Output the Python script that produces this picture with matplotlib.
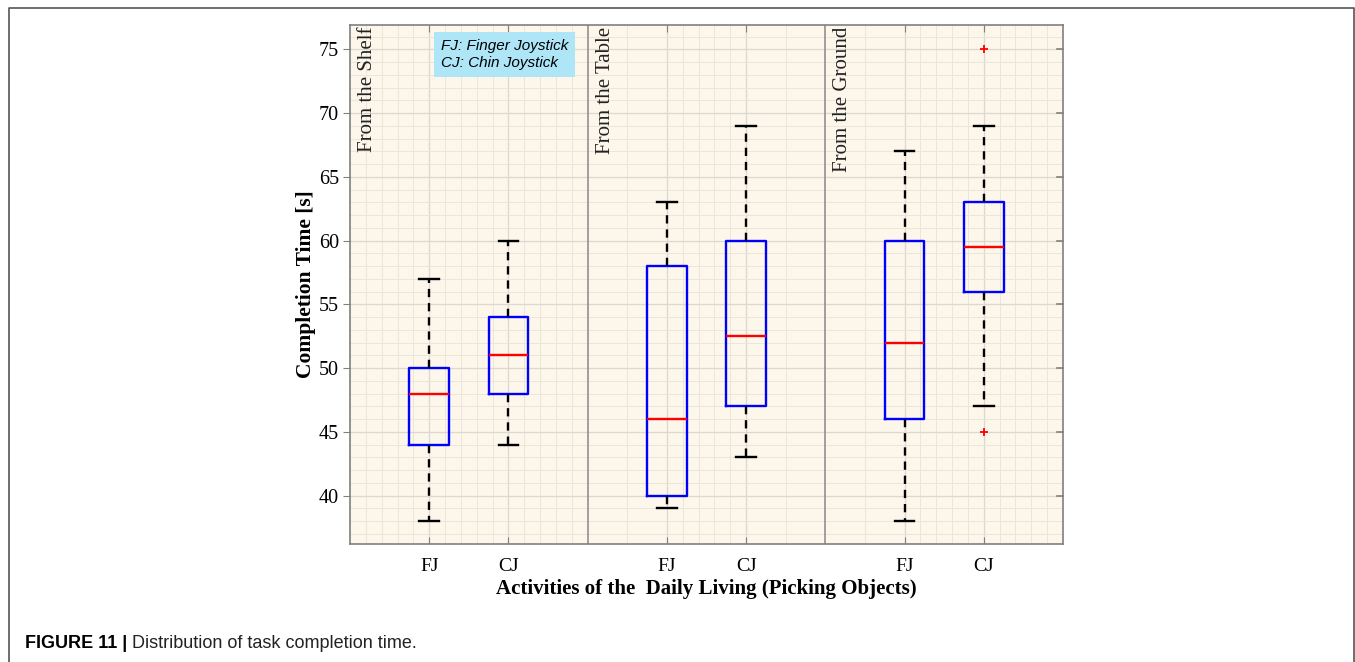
import matplotlib.pyplot as plt
from matplotlib.lines import Line2D
from matplotlib.ticker import MultipleLocator, FixedLocator

# box statistics
groups = ['From the Shelf', 'From the Table', 'From the Ground']
devices = ['FJ', 'CJ']
positions = [1, 2, 4, 5, 7, 8]
whislo = [38, 44, 39, 43, 38, 47]
q1 = [44, 48, 40, 47, 46, 56]
med = [48, 51, 46, 52.5, 52, 59.5]
q3 = [50, 54, 58, 60, 60, 63]
whishi = [57, 60, 63, 69, 67, 69]
fliers = [[], [], [], [], [], [75, 45]]

# minor vertical grid as it appears in the original
xminor = [0.2, 0.4, 0.6, 0.8, 1.2, 1.4, 1.6, 1.8, 2.2, 2.4, 2.6, 2.8,
          3.5, 4.2, 4.4, 4.6, 4.8, 5.5,
          6.5, 7.2, 7.4, 7.6, 7.8, 8.2, 8.4, 8.6, 8.8]

stats = []
for i in range(len(positions)):
    stats.append(dict(whislo=whislo[i], q1=q1[i], med=med[i], q3=q3[i],
                      whishi=whishi[i], fliers=fliers[i]))

fig = plt.figure(figsize=(13.55, 6.62), dpi=100)
ax = fig.add_axes([0.2583, 0.1782, 0.5262, 0.784])
ax.set_facecolor('#fcf6eb')

ax.bxp(stats, positions=positions, widths=0.5, showfliers=True,
       boxprops=dict(color='#0000ff', linewidth=1.7),
       medianprops=dict(color='#ff0000', linewidth=1.7),
       whiskerprops=dict(color='black', linewidth=1.7, linestyle=(0, (3.5, 2.5))),
       capprops=dict(color='black', linewidth=1.7),
       flierprops=dict(marker='+', markeredgecolor='#ff0000', markersize=6,
                       markeredgewidth=1.3, linestyle='none'),
       capwidths=0.25)

ax.set_xlim(0, 9)
ax.set_ylim(36.2, 76.9)
ax.set_xticks(positions)
ax.set_xticklabels(devices * 3)
ax.yaxis.set_major_locator(MultipleLocator(5))
ax.yaxis.set_minor_locator(MultipleLocator(1))
ax.xaxis.set_minor_locator(FixedLocator(xminor))

ax.grid(True, which='major', color='#dcd8ce', linewidth=0.9)
ax.grid(True, which='minor', color='#ebe6da', linewidth=0.7)
ax.set_axisbelow(True)

for s in ax.spines.values():
    s.set_color('#808080')
    s.set_linewidth(1.2)

ax.tick_params(axis='x', which='major', direction='in', top=True, length=5,
               color='#808080', labelsize=14, pad=10)
ax.tick_params(axis='y', which='major', direction='out', right=False, length=5,
               color='#808080', labelsize=14.5, pad=3)
ax.tick_params(which='minor', length=0)
for t in ax.get_xticklabels() + ax.get_yticklabels():
    t.set_family('Liberation Serif')
for yv in range(40, 80, 5):
    ax.plot([9 - 0.08, 9], [yv, yv], color='#808080', linewidth=1.2,
            clip_on=False, zorder=5)

# group separators and titles
for k, name in enumerate(groups):
    if k > 0:
        ax.axvline(3 * k, color='#909090', linewidth=1.2)
    ax.text(3 * k + 0.1, 76.75, name, rotation=90, ha='left', va='top',
            fontsize=15, family='Liberation Serif', color='#222222')

ax.text(1.15, 75.8, 'FJ: Finger Joystick\nCJ: Chin Joystick', ha='left', va='top',
        fontsize=11, style='italic', family='Liberation Sans', linespacing=1.3,
        bbox=dict(facecolor='#aee6f7', edgecolor='none', pad=5))

ax.set_ylabel('Completion Time [s]', fontsize=15.5, fontweight='bold',
              family='Liberation Serif', labelpad=2)
ax.set_xlabel('Activities of the  Daily Living (Picking Objects)', fontsize=15,
              fontweight='bold', family='Liberation Serif', labelpad=3)

# outer frame, open at the bottom
fx0, fx1, fy1 = 9 / 1355, 1354 / 1355, 1 - 8 / 662
fig.add_artist(Line2D([fx0, fx0, fx1, fx1], [0, fy1, fy1, 0],
                      transform=fig.transFigure, color='#555555', linewidth=1.2))

cap = fig.text(25 / 1355, 1 - 643 / 662, 'FIGURE 11 |', fontsize=13,
               fontweight='bold', family='Liberation Sans', va='center')
ax.annotate(' Distribution of task completion time.', xy=(1, 0.5),
            xycoords=cap, va='center', ha='left', fontsize=13,
            family='Liberation Sans', color='#222222')

fig.savefig('out.png', dpi=100)
